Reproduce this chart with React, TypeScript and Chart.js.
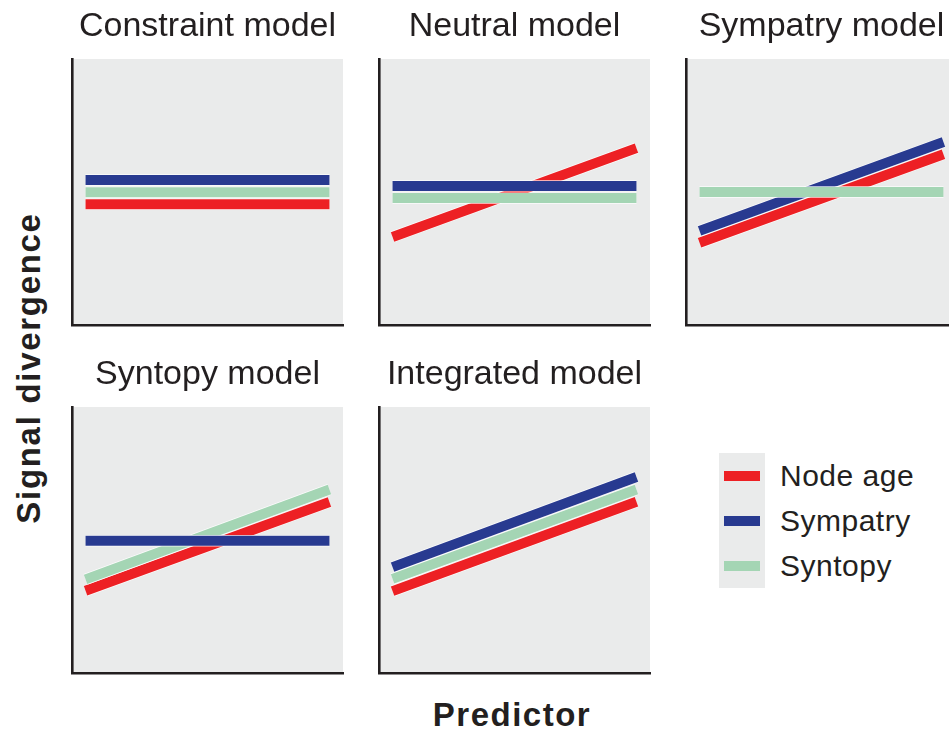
import React, { useEffect, useRef } from "react";
import { Chart, registerables } from "chart.js";

Chart.register(...registerables);

// ---------- data ----------
const panelTitles = ["Constraint model", "Neutral model", "Sympatry model", "Syntopy model", "Integrated model"];
const seriesNames = ["Node age", "Sympatry", "Syntopy"];
const seriesColors = ["#ed2024", "#283a90", "#a4d5b4"];
const predictorRange = [5, 95];
const nodeAgeValues = [[45.4, 45.4], [33.1, 66.5], [30.9, 64.2], [30.9, 64.3], [30.8, 64.4]];
const sympatryValues = [[54.5, 54.5], [52.3, 52.3], [35.4, 68.8], [49.7, 49.7], [39.8, 73.7]];
const syntopyValues = [[49.9, 49.9], [47.7, 47.7], [50, 50], [35.2, 69], [35.4, 69]];
// drawing order per panel (lower = drawn on top), for [Node age, Sympatry, Syntopy]
const drawOrder = [[2, 0, 1], [2, 0, 1], [2, 1, 0], [2, 0, 1], [2, 0, 1]];
const xAxisLabel = "Predictor";
const yAxisLabel = "Signal divergence";

// ---------- layout ----------
const FONT = "'Liberation Sans', Arial, Helvetica, sans-serif";
const TEXT = "#231f20";
const PANEL_BG = "#eaebeb";
const PLOT_W = 271;
const PLOT_H = 266;
const plotLefts = [72, 379, 686, 72, 379];
const plotTops = [59, 59, 59, 407, 407];
const PAD = 6;
const TITLE_SIZE = 34;
const TITLE_PAD_TOP = 6.3;
const TITLE_PAD_BOTTOM = 59 - TITLE_PAD_TOP - TITLE_SIZE * 1.2;

const panelBackground = {
  id: "panelBackground",
  beforeDraw(chart: any) {
    const { ctx, chartArea } = chart;
    if (!chartArea) return;
    ctx.save();
    ctx.fillStyle = PANEL_BG;
    ctx.fillRect(chartArea.left, chartArea.top, chartArea.right - chartArea.left, chartArea.bottom - chartArea.top);
    ctx.restore();
  },
};

// thin white halo under each line, following the points placed by the scales
const lineHalo = {
  id: "lineHalo",
  beforeDatasetDraw(chart: any, args: any) {
    const { ctx, chartArea } = chart;
    const pts = args.meta.data;
    if (!pts || pts.length < 2) return;
    ctx.save();
    ctx.beginPath();
    ctx.rect(chartArea.left, chartArea.top, chartArea.right - chartArea.left, chartArea.bottom - chartArea.top);
    ctx.clip();
    ctx.beginPath();
    ctx.moveTo(pts[0].x, pts[0].y);
    for (let i = 1; i < pts.length; i++) ctx.lineTo(pts[i].x, pts[i].y);
    ctx.strokeStyle = "rgba(255,255,255,0.85)";
    ctx.lineWidth = 11.4;
    ctx.lineCap = "butt";
    ctx.stroke();
    ctx.restore();
  },
};

function Panel({ index }: { index: number }) {
  const ref = useRef<HTMLCanvasElement | null>(null);
  const width = PAD + PLOT_W + PAD;
  const height = 59 + PLOT_H + PAD;
  const left = plotLefts[index] - PAD;
  const top = plotTops[index] - 59;

  useEffect(() => {
    if (!ref.current) return;
    const seriesValues = [nodeAgeValues[index], sympatryValues[index], syntopyValues[index]];
    const datasets = seriesNames.map((name, s) => ({
      label: name,
      data: predictorRange.map((x, k) => ({ x, y: seriesValues[s][k] })),
      borderColor: seriesColors[s],
      backgroundColor: seriesColors[s],
      borderWidth: 10,
      borderCapStyle: "butt" as const,
      pointRadius: 0,
      pointHoverRadius: 0,
      fill: false,
      tension: 0,
      order: drawOrder[index][s],
    }));
    const axisCommon = {
      type: "linear" as const,
      min: 0,
      max: 100,
      ticks: { display: false },
      grid: { display: false, drawTicks: false, tickLength: 0 },
      border: { display: true, color: TEXT, width: 2.6 },
    };
    const chart = new Chart(ref.current, {
      type: "line",
      data: { datasets },
      options: {
        responsive: false,
        animation: false,
        events: [],
        layout: { padding: { left: PAD, right: PAD, top: 0, bottom: PAD } },
        plugins: {
          legend: { display: false },
          tooltip: { enabled: false },
          title: {
            display: true,
            text: panelTitles[index],
            color: TEXT,
            font: { family: FONT, size: TITLE_SIZE, weight: "normal", lineHeight: 1.2 },
            padding: { top: TITLE_PAD_TOP, bottom: TITLE_PAD_BOTTOM },
          },
        },
        scales: {
          x: { ...axisCommon, position: "bottom" },
          y: { ...axisCommon, position: "left" },
        },
      },
      plugins: [panelBackground, lineHalo],
    });
    return () => chart.destroy();
  }, [index]);

  return (
    <canvas
      ref={ref}
      width={width}
      height={height}
      style={{ position: "absolute", left, top, width, height }}
    />
  );
}

const legendCenters = [476, 521, 566];

export default function App() {
  return (
    <div
      style={{
        position: "fixed",
        left: 0,
        top: 0,
        width: 949,
        height: 733,
        overflow: "hidden",
        background: "#ffffff",
        fontFamily: FONT,
        color: TEXT,
      }}
    >
      {panelTitles.map((_, i) => (
        <Panel key={i} index={i} />
      ))}

      {/* y-axis label */}
      <div
        style={{
          position: "absolute",
          left: 28,
          top: 367.5,
          transform: "translate(-50%, -50%) rotate(-90deg)",
          whiteSpace: "nowrap",
          fontWeight: "bold",
          fontSize: 33,
          lineHeight: "33px",
          letterSpacing: "1.7px",
        }}
      >
        {yAxisLabel}
      </div>

      {/* x-axis label */}
      <div
        style={{
          position: "absolute",
          left: 512,
          top: 713.5,
          transform: "translate(-50%, -50%)",
          whiteSpace: "nowrap",
          fontWeight: "bold",
          fontSize: 33,
          lineHeight: "33px",
          letterSpacing: "1.5px",
        }}
      >
        {xAxisLabel}
      </div>

      {/* legend */}
      <div style={{ position: "absolute", left: 719, top: 453, width: 46, height: 135, background: PANEL_BG }} />
      {seriesNames.map((name, s) => (
        <React.Fragment key={name}>
          <div
            style={{
              position: "absolute",
              left: 724,
              top: legendCenters[s] - 5,
              width: 36,
              height: 10,
              background: seriesColors[s],
            }}
          />
          <div
            style={{
              position: "absolute",
              left: 780,
              top: legendCenters[s] - 15,
              fontSize: 30,
              lineHeight: "30px",
              letterSpacing: "0.5px",
              whiteSpace: "nowrap",
            }}
          >
            {name}
          </div>
        </React.Fragment>
      ))}
    </div>
  );
}
